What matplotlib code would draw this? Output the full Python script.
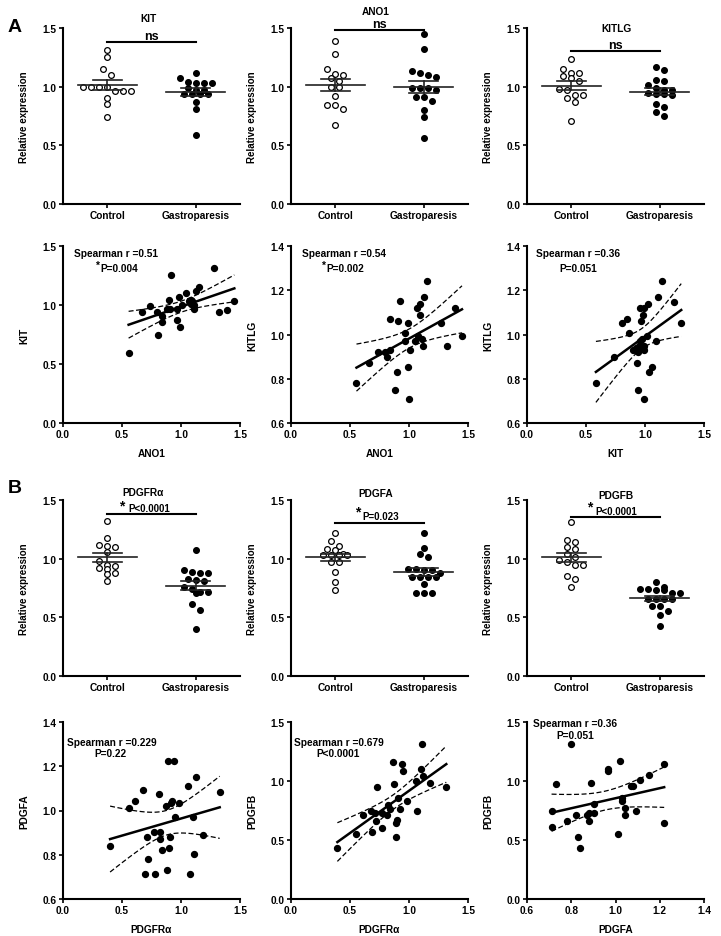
import numpy as np
import matplotlib
matplotlib.use("Agg")
import matplotlib.pyplot as plt
from matplotlib.ticker import FormatStrFormatter

plt.rcParams["font.family"] = ["Liberation Sans", "DejaVu Sans"]
plt.rcParams["font.weight"] = "bold"
plt.rcParams["font.size"] = 7

groups = ["Control", "Gastroparesis"]

# dot plots: relative expression, control vs gastroparesis
kit_ctrl = [1.31, 1.25, 1.15, 1.10, 1.00, 1.00, 1.00, 1.00, 0.96, 0.96, 0.96, 0.90, 0.85, 0.74]
kit_gp = [1.12, 1.07, 1.04, 1.03, 1.03, 1.03, 0.99, 0.97, 0.97, 0.94, 0.94, 0.94, 0.94, 0.87, 0.81, 0.59]
ano1_ctrl = [1.39, 1.28, 1.15, 1.11, 1.10, 1.07, 1.05, 1.00, 1.00, 0.92, 0.84, 0.84, 0.81, 0.67]
ano1_gp = [1.45, 1.32, 1.13, 1.12, 1.10, 1.08, 0.99, 0.99, 0.99, 0.97, 0.91, 0.91, 0.88, 0.80, 0.74, 0.56]
kitlg_ctrl = [1.24, 1.15, 1.12, 1.12, 1.09, 1.07, 1.05, 0.98, 0.97, 0.93, 0.93, 0.90, 0.87, 0.71]
kitlg_gp = [1.17, 1.14, 1.06, 1.05, 1.01, 0.99, 0.97, 0.97, 0.95, 0.94, 0.94, 0.93, 0.85, 0.83, 0.78, 0.75]
pdgfra_ctrl = [1.32, 1.18, 1.12, 1.11, 1.10, 1.06, 0.98, 0.95, 0.94, 0.92, 0.91, 0.88, 0.87, 0.81]
pdgfra_gp = [1.07, 0.90, 0.89, 0.88, 0.88, 0.83, 0.82, 0.81, 0.74, 0.76, 0.72, 0.72, 0.71, 0.61, 0.56, 0.40]
pdgfa_ctrl = [1.22, 1.15, 1.11, 1.08, 1.07, 1.04, 1.03, 1.03, 1.03, 1.03, 0.97, 0.97, 0.89, 0.80, 0.73]
pdgfa_gp = [1.22, 1.09, 1.04, 1.01, 0.91, 0.91, 0.90, 0.88, 0.90, 0.84, 0.84, 0.84, 0.84, 0.78, 0.71, 0.71, 0.71]
pdgfb_ctrl = [1.31, 1.16, 1.14, 1.10, 1.08, 1.04, 1.01, 0.99, 0.97, 0.95, 0.95, 0.85, 0.83, 0.76]
pdgfb_gp = [0.80, 0.76, 0.74, 0.74, 0.73, 0.73, 0.71, 0.71, 0.66, 0.66, 0.66, 0.66, 0.60, 0.60, 0.55, 0.52, 0.43]

# correlation scatter data
ano1_vs_kit_x = [0.556, 0.672, 0.734, 0.797, 0.808, 0.839, 0.839, 0.899, 0.919, 0.907, 0.964, 0.970, 0.987, 0.989,
                 1.006, 1.046, 1.069, 1.083, 1.097, 1.106, 1.114, 1.128, 1.151, 1.279, 1.321, 1.392, 1.452, 1.086, 0.880]
ano1_vs_kit_y = [0.592, 0.943, 0.991, 0.943, 0.742, 0.903, 0.852, 1.042, 1.251, 0.968, 0.965, 0.872, 1.070, 0.810,
                 1.002, 1.101, 1.030, 1.010, 1.036, 0.999, 0.965, 1.121, 1.152, 1.310, 0.940, 0.959, 1.030, 1.039, 0.970]

ano1_vs_kitlg_x = [0.555, 0.665, 0.739, 0.798, 0.810, 0.838, 0.838, 0.906, 0.920, 0.897, 0.878, 0.965, 0.968, 0.988, 0.988,
                   1.002, 1.008, 1.047, 1.064, 1.076, 1.095, 1.095, 1.107, 1.115, 1.127, 1.149, 1.274, 1.319, 1.390, 1.449]
ano1_vs_kitlg_y = [0.780, 0.872, 0.920, 0.920, 0.900, 0.931, 1.069, 1.060, 1.151, 0.829, 0.749, 1.009, 0.971, 1.051, 0.851,
                   0.710, 0.931, 0.971, 1.119, 0.991, 1.140, 1.089, 0.980, 0.950, 1.171, 1.240, 1.050, 0.950, 1.119, 0.991]

kit_vs_kitlg_x = [0.584, 0.734, 0.802, 0.845, 0.868, 0.896, 0.936, 0.938, 0.938, 0.947, 0.961, 0.955, 0.964, 0.984, 0.995,
                  0.990, 0.995, 0.995, 1.021, 1.026, 1.038, 1.063, 1.094, 1.114, 1.143, 1.248, 1.307, 0.927, 0.978]
kit_vs_kitlg_y = [0.780, 0.900, 1.050, 1.071, 1.009, 0.931, 0.869, 0.749, 0.920, 0.950, 0.970, 1.119, 1.060, 1.089, 1.119,
                  0.931, 0.950, 0.710, 0.991, 1.140, 0.829, 0.851, 0.971, 1.171, 1.240, 1.149, 1.050, 0.940, 0.980]

pdgfra_vs_pdgfa_x = [0.399, 0.561, 0.610, 0.681, 0.692, 0.712, 0.724, 0.778, 0.772, 0.815, 0.823, 0.823, 0.843, 0.872, 0.883,
                     0.892, 0.895, 0.903, 0.915, 0.926, 0.943, 0.952, 0.986, 1.063, 1.074, 1.103, 1.114, 1.125, 1.185, 1.328]
pdgfra_vs_pdgfa_y = [0.841, 1.012, 1.042, 1.092, 0.712, 0.882, 0.780, 0.712, 0.902, 1.073, 0.902, 0.871, 0.821, 1.021, 0.730,
                     1.224, 0.832, 0.882, 1.032, 1.042, 1.224, 0.971, 1.032, 1.112, 0.712, 0.971, 0.802, 1.153, 0.891, 1.082]

pdgfra_vs_pdgfb_x = [0.393, 0.555, 0.606, 0.688, 0.676, 0.719, 0.708, 0.727, 0.773, 0.767, 0.815, 0.821, 0.838, 0.866, 0.877,
                     0.889, 0.889, 0.900, 0.911, 0.923, 0.937, 0.948, 0.979, 1.056, 1.067, 1.098, 1.107, 1.118, 1.177, 1.316]
pdgfra_vs_pdgfb_y = [0.434, 0.553, 0.713, 0.570, 0.744, 0.665, 0.733, 0.953, 0.598, 0.727, 0.713, 0.795, 0.761, 1.164, 0.972,
                     0.524, 0.648, 0.668, 0.854, 0.764, 1.142, 1.083, 0.834, 1.003, 0.744, 1.102, 1.311, 1.043, 0.981, 0.953]

pdgfa_vs_pdgfb_x = [0.711, 0.711, 0.732, 0.780, 0.800, 0.820, 0.830, 0.841, 0.869, 0.878, 0.880, 0.890, 0.901, 0.901, 0.967,
                    0.967, 1.011, 1.020, 1.029, 1.029, 1.041, 1.041, 1.068, 1.080, 1.092, 1.110, 1.152, 1.220, 1.220]
pdgfa_vs_pdgfb_y = [0.744, 0.606, 0.974, 0.662, 1.316, 0.713, 0.524, 0.433, 0.711, 0.731, 0.663, 0.983, 0.725, 0.804, 1.104,
                    1.087, 0.552, 1.166, 0.852, 0.832, 0.713, 0.767, 0.957, 0.957, 0.744, 1.008, 1.050, 1.146, 0.645]

W, H = 721, 937
col_left = [63, 291, 527]
row_box = [(29, 205), (247, 424), (501, 677), (723, 900)]


def make_ax(fig, col, row):
    top, bot = row_box[row]
    return fig.add_axes([col_left[col] / W, 1 - bot / H, 177 / W, (bot - top) / H])


def style(ax):
    for s in ["top", "right"]:
        ax.spines[s].set_visible(False)
    for s in ["left", "bottom"]:
        ax.spines[s].set_linewidth(1.5)
    ax.tick_params(direction="out", length=3, width=1.2, labelsize=7.3, pad=1.5)
    for lab in ax.get_xticklabels() + ax.get_yticklabels():
        lab.set_fontweight("bold")


def swarm(vals, h=0.05, dx=0.09):
    # simple column-scatter layout: values within h share a row, spread sideways
    vals = np.asarray(vals)
    order = np.argsort(-vals)
    off = np.zeros(len(vals))
    i = 0
    while i < len(vals):
        j = i
        while j + 1 < len(vals) and vals[order[i]] - vals[order[j + 1]] < h:
            j += 1
        grp = order[i:j + 1]
        for k, idx in enumerate(grp):
            off[idx] = (k - (len(grp) - 1) / 2) * dx
        i = j + 1
    return off


def dot_panel(ax, ctrl, gp, title, tpos, line_y, ptext, ppos, star=None):
    for pos, vals, fc in [(1, ctrl, "white"), (2, gp, "black")]:
        v = np.asarray(vals)
        ax.scatter(pos + swarm(v), v, s=17, facecolor=fc, edgecolor="black", linewidth=0.9, zorder=3)
        m = v.mean()
        se = v.std(ddof=1) / np.sqrt(len(v))
        ax.plot([pos - 0.335, pos + 0.335], [m, m], color="#222222", lw=1.2, zorder=4)
        ax.plot([pos - 0.165, pos + 0.165], [m + se, m + se], color="#222222", lw=1.2, zorder=4)
        ax.plot([pos - 0.165, pos + 0.165], [m - se, m - se], color="#222222", lw=1.2, zorder=4)
        ax.plot([pos, pos], [m - se, m + se], color="#222222", lw=1.2, zorder=4)
    ax.plot([1, 2], [line_y, line_y], color="black", lw=1.5, clip_on=False)
    ax.text(ppos[0], ppos[1], ptext, ha="center", va="center", fontsize=7 if ptext != "ns" else 9,
            fontweight="bold", clip_on=False)
    if star:
        ax.text(star[0], star[1], "*", ha="center", va="center", fontsize=10, fontweight="bold")
    ax.text(tpos[0], tpos[1], title, transform=ax.transAxes, ha="center", va="center",
            fontsize=7.3, fontweight="bold")
    ax.set_xlim(0.5, 2.5)
    ax.set_ylim(0, 1.5)
    ax.set_xticks([1, 2])
    ax.set_xticklabels(groups)
    ax.set_yticks([0, 0.5, 1.0, 1.5])
    ax.yaxis.set_major_formatter(FormatStrFormatter("%.1f"))
    ax.set_ylabel("Relative expression", fontsize=7, fontweight="bold")
    ax.yaxis.set_label_coords(-0.19, 0.5)
    style(ax)


def scatter_panel(ax, x, y, xlabel, ylabel, xlim, ylim, xticks, yticks, r_text, p_text, r_pos, p_pos, star=False):
    x = np.asarray(x)
    y = np.asarray(y)
    ax.scatter(x, y, s=18, color="black", zorder=3)
    n = len(x)
    b, a = np.polyfit(x, y, 1)
    xs = np.linspace(x.min(), x.max(), 100)
    yhat = a + b * xs
    resid = y - (a + b * x)
    s = np.sqrt(np.sum(resid ** 2) / (n - 2))
    sxx = np.sum((x - x.mean()) ** 2)
    ci = 2.05 * s * np.sqrt(1 / n + (xs - x.mean()) ** 2 / sxx)
    ax.plot(xs, yhat, color="black", lw=1.8)
    ax.plot(xs, yhat + ci, color="black", lw=0.9, dashes=(4, 2))
    ax.plot(xs, yhat - ci, color="black", lw=0.9, dashes=(4, 2))
    ax.text(r_pos[0], r_pos[1], r_text, transform=ax.transAxes, ha="center", va="center",
            fontsize=7.3, fontweight="bold")
    if star:
        ax.text(p_pos[0], p_pos[1], p_text, transform=ax.transAxes, ha="left", va="center",
                fontsize=7.3, fontweight="bold")
        ax.text(p_pos[0], p_pos[1] + 0.02, "*", transform=ax.transAxes, ha="right", va="center",
                fontsize=7.3, fontweight="bold")
    else:
        ax.text(p_pos[0], p_pos[1], p_text, transform=ax.transAxes, ha="center", va="center",
                fontsize=7.3, fontweight="bold")
    ax.set_xlim(*xlim)
    ax.set_ylim(*ylim)
    ax.set_xticks(xticks)
    ax.set_yticks(yticks)
    ax.xaxis.set_major_formatter(FormatStrFormatter("%.1f"))
    ax.yaxis.set_major_formatter(FormatStrFormatter("%.1f"))
    ax.set_xlabel(xlabel, fontsize=7.3, fontweight="bold")
    ax.set_ylabel(ylabel, fontsize=7.3, fontweight="bold")
    ax.xaxis.set_label_coords(0.5, -0.14)
    ax.yaxis.set_label_coords(-0.19, 0.5)
    style(ax)


fig = plt.figure(figsize=(W / 100, H / 100), dpi=100)

dot_panel(make_ax(fig, 0, 0), kit_ctrl, kit_gp, "KIT", (0.483, 1.057), 1.38, "ns", (1.5, 1.435))
dot_panel(make_ax(fig, 1, 0), ano1_ctrl, ano1_gp, "ANO1", (0.48, 1.097), 1.48, "ns", (1.5, 1.535))
dot_panel(make_ax(fig, 2, 0), kitlg_ctrl, kitlg_gp, "KITLG", (0.506, 1.0), 1.30, "ns", (1.5, 1.355))

x1 = [0, 0.5, 1.0, 1.5]
y1 = [0.6, 0.8, 1.0, 1.2, 1.4]
scatter_panel(make_ax(fig, 0, 1), ano1_vs_kit_x, ano1_vs_kit_y, "ANO1", "KIT", (0, 1.5), (0, 1.5), x1, x1,
              "Spearman r =0.51", "P=0.004", (0.30, 0.96), (0.21, 0.876), star=True)
scatter_panel(make_ax(fig, 1, 1), ano1_vs_kitlg_x, ano1_vs_kitlg_y, "ANO1", "KITLG", (0, 1.5), (0.6, 1.4), x1, y1,
              "Spearman r =0.54", "P=0.002", (0.30, 0.96), (0.20, 0.876), star=True)
scatter_panel(make_ax(fig, 2, 1), kit_vs_kitlg_x, kit_vs_kitlg_y, "KIT", "KITLG", (0, 1.5), (0.6, 1.4), x1, y1,
              "Spearman r =0.36", "P=0.051", (0.29, 0.96), (0.29, 0.876))

dot_panel(make_ax(fig, 0, 2), pdgfra_ctrl, pdgfra_gp, "PDGFRα", (0.455, 1.045), 1.38, "P<0.0001", (1.48, 1.432),
          star=(1.16, 1.455))
dot_panel(make_ax(fig, 1, 2), pdgfa_ctrl, pdgfa_gp, "PDGFA", (0.48, 1.04), 1.30, "P=0.023", (1.51, 1.364),
          star=(1.25, 1.405))
dot_panel(make_ax(fig, 2, 2), pdgfb_ctrl, pdgfb_gp, "PDGFB", (0.50, 1.028), 1.356, "P<0.0001", (1.506, 1.407),
          star=(1.21, 1.445))

scatter_panel(make_ax(fig, 0, 3), pdgfra_vs_pdgfa_x, pdgfra_vs_pdgfa_y, "PDGFRα", "PDGFA", (0, 1.5), (0.6, 1.4), x1, y1,
              "Spearman r =0.229", "P=0.22", (0.275, 0.887), (0.27, 0.825))
scatter_panel(make_ax(fig, 1, 3), pdgfra_vs_pdgfb_x, pdgfra_vs_pdgfb_y, "PDGFRα", "PDGFB", (0, 1.5), (0, 1.5), x1, x1,
              "Spearman r =0.679", "P<0.0001", (0.27, 0.887), (0.267, 0.825))
scatter_panel(make_ax(fig, 2, 3), pdgfa_vs_pdgfb_x, pdgfa_vs_pdgfb_y, "PDGFA", "PDGFB", (0.6, 1.4), (0, 1.5),
              [0.6, 0.8, 1.0, 1.2, 1.4], x1,
              "Spearman r =0.36", "P=0.051", (0.27, 0.994), (0.27, 0.927))

fig.text(15 / W, 1 - 27 / H, "A", ha="center", va="center", fontsize=14, fontweight="bold")
fig.text(15 / W, 1 - 489 / H, "B", ha="center", va="center", fontsize=14, fontweight="bold")

fig.savefig("out.png", dpi=100)
